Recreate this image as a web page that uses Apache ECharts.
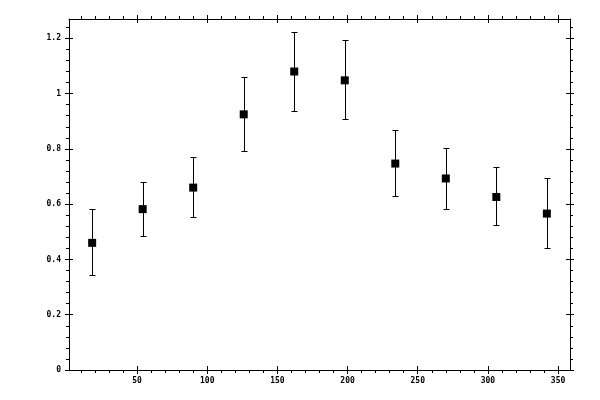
<!DOCTYPE html>
<html>
<head>
<meta charset="utf-8">
<script src="https://cdn.jsdelivr.net/npm/echarts@6/dist/echarts.min.js"></script>
<style>
  html, body { margin: 0; padding: 0; background: #fff; }
  #chart { width: 600px; height: 400px; }
</style>
</head>
<body>
<div id="chart"></div>
<script>
// values
const xValues = [18, 54, 90, 126, 162, 198, 234, 270, 306, 342];
const yValues = [0.46, 0.582, 0.66, 0.925, 1.08, 1.048, 0.747, 0.693, 0.626, 0.566];
const errLow  = [0.342, 0.484, 0.552, 0.794, 0.936, 0.908, 0.628, 0.581, 0.524, 0.44];
const errHigh = [0.581, 0.682, 0.77, 1.059, 1.222, 1.193, 0.867, 0.802, 0.736, 0.693];

const xMajorTicks = [50, 100, 150, 200, 250, 300, 350];
const xMinorTicks = [10, 20, 30, 40, 60, 70, 80, 90, 110, 120, 130, 140, 160, 170, 180, 190,
  210, 220, 230, 240, 260, 270, 280, 290, 310, 320, 330, 340];
const yMajorTicks = [0, 0.2, 0.4, 0.6, 0.8, 1, 1.2];
const yMinorTicks = [0.04, 0.08, 0.12, 0.16, 0.24, 0.28, 0.32, 0.36, 0.44, 0.48, 0.52, 0.56,
  0.64, 0.68, 0.72, 0.76, 0.84, 0.88, 0.92, 0.96, 1.04, 1.08, 1.12, 1.16, 1.24];

const X_MIN = 1.5, X_MAX = 358.5;
const Y_MIN = 0, Y_MAX = 1.27;

const black = '#000';
const labelFont = { fontFamily: 'DejaVu Sans Mono', fontSize: 8, fontWeight: 'bold', color: black };

// one axis = one set of ticks; several are stacked on each side
function makeX(pos, ticks, len, inside, withLine, withLabels) {
  return {
    type: 'value', position: pos, min: X_MIN, max: X_MAX,
    splitLine: { show: false },
    axisLine: { show: withLine, onZero: false, lineStyle: { color: black, width: 1 } },
    axisTick: { show: true, customValues: ticks, length: len, inside: inside, lineStyle: { color: black, width: 1 } },
    axisLabel: withLabels ? Object.assign({ show: true, customValues: ticks, margin: 7 }, labelFont) : { show: false }
  };
}
function makeY(pos, ticks, len, inside, withLine, withLabels) {
  return {
    type: 'value', position: pos, min: Y_MIN, max: Y_MAX,
    splitLine: { show: false },
    axisLine: { show: withLine, onZero: false, lineStyle: { color: black, width: 1 } },
    axisTick: { show: true, customValues: ticks, length: len, inside: inside, lineStyle: { color: black, width: 1 } },
    axisLabel: withLabels ? Object.assign({ show: true, customValues: ticks, margin: 8 }, labelFont) : { show: false }
  };
}

const chart = echarts.init(document.getElementById('chart'), null, { renderer: 'canvas' });

const option = {
  backgroundColor: '#fff',
  animation: false,
  grid: { left: 69, right: 30, top: 19, bottom: 30, containLabel: false },
  xAxis: [
    makeX('bottom', xMajorTicks, 4, false, true, true),
    makeX('bottom', xMajorTicks, 4, true, false, false),
    makeX('bottom', xMinorTicks, 3, false, false, false),
    makeX('top', xMajorTicks, 4, false, true, false),
    makeX('top', xMajorTicks, 4, true, false, false),
    makeX('top', xMinorTicks, 3, false, false, false)
  ],
  yAxis: [
    makeY('left', yMajorTicks, 4, false, true, true),
    makeY('left', yMajorTicks, 4, true, false, false),
    makeY('left', yMinorTicks, 3, false, false, false),
    makeY('right', yMajorTicks, 4, false, true, false),
    makeY('right', yMajorTicks, 4, true, false, false),
    makeY('right', yMinorTicks, 3, false, false, false)
  ],
  series: [
    {
      type: 'custom',
      xAxisIndex: 0, yAxisIndex: 0,
      data: xValues.map((x, i) => [x, errLow[i], errHigh[i]]),
      renderItem: function (params, api) {
        const lo = api.coord([api.value(0), api.value(1)]);
        const hi = api.coord([api.value(0), api.value(2)]);
        // snap to pixel centres so the 1px lines stay sharp
        const x = Math.round(lo[0]) + 0.5;
        const yLo = Math.round(lo[1]) + 0.5;
        const yHi = Math.round(hi[1]) + 0.5;
        const cap = 3;
        const style = { stroke: black, lineWidth: 1 };
        return {
          type: 'group',
          children: [
            { type: 'line', shape: { x1: x, y1: yHi, x2: x, y2: yLo }, style: style },
            { type: 'line', shape: { x1: x - cap, y1: yHi, x2: x + cap, y2: yHi }, style: style },
            { type: 'line', shape: { x1: x - cap, y1: yLo, x2: x + cap, y2: yLo }, style: style }
          ]
        };
      },
      z: 2
    },
    {
      type: 'scatter',
      xAxisIndex: 0, yAxisIndex: 0,
      data: xValues.map((x, i) => [x, yValues[i]]),
      symbol: 'rect',
      symbolSize: 8,
      itemStyle: { color: black, opacity: 1 },
      z: 3
    }
  ]
};

chart.setOption(option);
</script>
</body>
</html>
